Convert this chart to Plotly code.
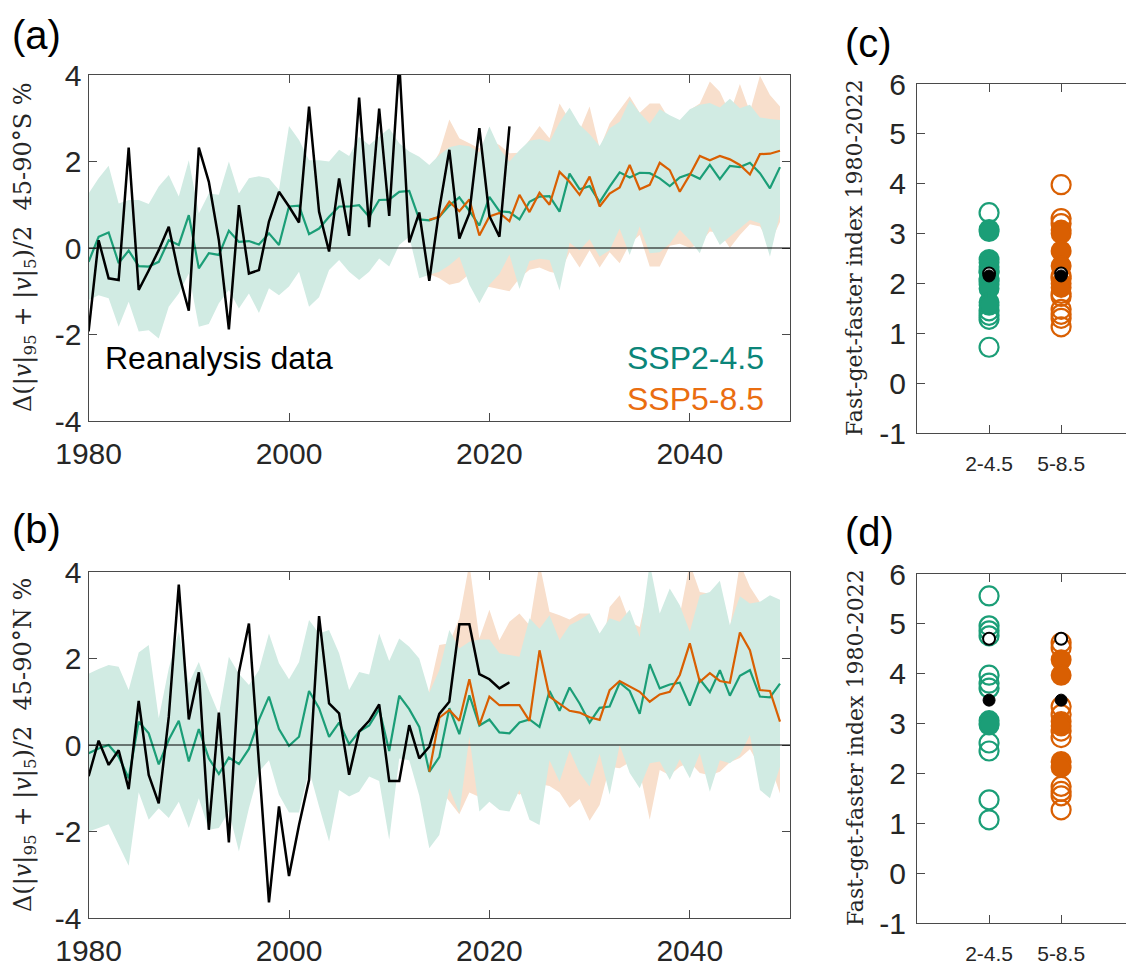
import plotly.graph_objects as go

# ---------------- data ----------------
years_hist = list(range(1980, 2023))      # reanalysis years
years_all = list(range(1980, 2050))       # model years (SSP2-4.5 incl. historical)
years_ssp = list(range(2014, 2050))       # SSP5-8.5 years

# Panel (a): 45-90°S
rean_a = [-1.93, 0.18, -0.70, -0.74, 2.32, -0.97, -0.52, -0.05, 0.49, -0.60,
          -1.45, 2.32, 1.53, 0.18, -1.88, 0.99, -0.59, -0.51, 0.61, 1.30,
          0.96, 0.59, 3.27, 0.84, -0.08, 1.61, 0.28, 3.48, 0.48, 3.22,
          0.74, 4.30, 0.13, 0.82, -0.76, 0.90, 2.27, 0.22, 0.80, 2.77,
          0.74, 0.26, 2.81]
ssp245_a = [-0.32, 0.26, 0.36, -0.35, -0.06, -0.42, -0.43, -0.32, 0.18, 0.07,
            0.76, -0.47, -0.12, -0.16, 0.40, 0.14, 0.16, 0.08, 0.34, 0.07,
            0.96, 0.98, 0.32, 0.45, 0.72, 0.96, 0.96, 0.99, 0.72, 1.11,
            1.12, 1.30, 1.32, 0.66, 0.64, 0.72, 0.98, 1.17, 0.86, 0.52,
            1.18, 0.85, 0.83, 0.66, 1.07, 1.19, 1.20, 0.84, 1.72, 1.36,
            1.43, 1.06, 1.42, 1.75, 1.63, 1.74, 1.73, 1.61, 1.43, 1.63,
            1.71, 1.60, 1.92, 1.59, 1.90, 1.87, 1.97, 1.73, 1.38, 1.87]
ssp585_a = [0.65, 0.72, 1.07, 0.85, 1.12, 0.29,
            0.73, 0.81, 0.62, 1.23, 0.83, 1.28, 1.00, 1.76, 1.53, 1.23,
            1.65, 0.96, 1.26, 1.40, 1.92, 1.36, 1.46, 1.97, 1.80, 1.30,
            1.69, 2.13, 2.03, 2.13, 2.05, 1.92, 1.70, 2.17, 2.18, 2.25]
ssp245_a_hi = [1.26, 1.61, 1.90, 1.03, 1.11, 1.11, 1.02, 1.42, 1.69, 1.19,
               2.03, 0.80, 1.26, 1.23, 2.00, 1.26, 1.61, 1.66, 1.61, 1.34,
               2.82, 2.50, 2.03, 2.03, 2.00, 2.27, 2.13, 2.57, 2.38, 2.57,
               2.77, 2.42, 2.23, 2.11, 1.92, 2.15, 2.33, 2.38, 2.35, 2.21,
               2.81, 2.30, 2.00, 2.26, 2.48, 2.52, 2.45, 2.90, 3.24, 2.85,
               2.63, 2.36, 2.77, 2.92, 3.42, 3.13, 2.87, 3.21, 3.07, 2.96,
               3.21, 3.31, 3.35, 3.25, 3.45, 3.23, 3.31, 3.02, 2.98, 2.96]
ssp245_a_lo = [-1.20, -1.09, -1.16, -1.82, -1.24, -1.93, -1.90, -2.09, -1.36, -1.05,
               -0.59, -1.82, -1.76, -1.28, -0.97, -1.40, -1.05, -1.50, -0.93, -1.09,
               -0.89, -0.55, -1.36, -1.14, -0.51, -0.28, -0.55, -0.74, -0.55, -0.24,
               -0.43, 0.07, 0.26, -0.70, -0.62, -0.55, -0.40, -0.20, -0.85, -1.28,
               -0.85, -0.60, -0.15, -0.95, -0.30, -0.25, -0.28, -0.98, 0.12, -0.05,
               0.20, -0.20, -0.05, 0.45, -0.16, 0.50, -0.12, -0.10, 0.10, 0.42,
               0.18, -0.12, 0.50, 0.07, 0.26, 0.45, 0.65, 0.57, -0.20, 0.80]
ssp585_a_hi = [1.80, 2.20, 2.97, 2.54, 2.42, 2.30,
               2.50, 2.38, 2.19, 2.20, 2.50, 2.82, 2.54, 3.34, 2.96, 2.71,
               3.27, 2.30, 2.88, 3.19, 3.51, 3.13, 3.34, 3.34, 2.96, 2.84,
               3.19, 3.34, 3.85, 3.61, 3.11, 3.79, 3.15, 3.98, 3.54, 3.27]
ssp585_a_lo = [-0.60, -0.70, -0.85, -0.80, -0.60, -0.90,
               -0.90, -0.95, -1.00, -0.70, -0.50, -0.45, -0.55, -0.60, -0.10, -0.45,
               -0.05, -0.45, -0.10, -0.35, 0.10, 0.30, -0.43, -0.43, 0.05, 0.10,
               0.00, 0.10, 0.38, 0.35, 0.00, 0.30, 0.55, 0.50, 0.10, 0.60]

# Panel (b): 45-90°N
rean_b = [-0.72, 0.10, -0.46, -0.12, -1.02, 1.02, -0.69, -1.35, 0.65, 3.71,
          0.59, 1.68, -1.96, 0.75, -2.25, 1.68, 2.81, -0.40, -3.64, -1.42,
          -3.03, -1.85, -0.81, 2.98, 0.96, 0.73, -0.69, 0.31, 0.56, 0.94,
          -0.83, -0.83, 0.46, -0.31, -0.04, 0.72, 1.00, 2.79, 2.79, 1.64,
          1.52, 1.31, 1.45]
ssp245_b = [-0.19, -0.08, 0.00, -0.27, -0.77, 0.54, 0.27, -0.45, 0.12, 0.56,
            -0.38, 0.37, -0.31, -0.67, -0.29, -0.44, -0.09, 0.58, 1.12, 0.37,
            -0.02, 0.19, 1.25, 0.85, 0.19, 0.52, 0.02, 0.31, 0.45, 0.83,
            -0.14, 1.14, 0.83, 0.42, -0.62, -0.28, 0.85, 0.25, 1.15, 0.45,
            0.59, 0.29, 0.27, 0.52, 0.59, 0.42, 1.25, 0.79, 1.33, 0.96,
            0.52, 0.86, 0.89, 1.44, 1.25, 0.72, 1.87, 1.31, 1.40, 1.44,
            0.91, 1.52, 1.22, 1.73, 1.14, 1.60, 1.73, 1.12, 1.10, 1.42]
ssp585_b = [-0.62, 0.63, 0.81, 0.56, 1.52, 0.46,
            1.12, 0.92, 0.92, 0.92, 0.56, 2.19, 1.12, 0.95, 0.79, 0.75,
            0.64, 0.58, 1.27, 1.48, 1.35, 1.23, 1.00, 1.17, 1.23, 1.62,
            2.35, 1.46, 1.66, 1.48, 1.44, 2.60, 2.19, 1.27, 1.25, 0.54]
ssp245_b_hi = [1.65, 1.76, 1.85, 1.81, 1.27, 2.14, 2.31, 0.62, 1.77, 2.62,
               1.42, 1.92, 1.27, 0.71, 2.04, 1.65, 1.39, 1.73, 2.58, 1.89,
               1.52, 1.92, 2.89, 2.58, 2.66, 2.12, 1.27, 1.69, 1.63, 2.58,
               1.94, 2.46, 2.27, 2.00, 1.21, 1.73, 2.66, 2.23, 2.39, 2.44,
               2.44, 2.12, 2.08, 2.04, 2.93, 2.69, 3.00, 2.42, 2.77, 2.89,
               3.04, 2.58, 2.93, 2.85, 3.13, 2.50, 4.20, 3.04, 3.62, 3.23,
               2.62, 3.46, 3.54, 3.80, 2.77, 3.44, 3.27, 3.31, 3.46, 3.36]
ssp245_b_lo = [-2.00, -1.92, -1.83, -2.31, -2.79, -1.09, -1.73, -1.46, -1.69, -1.31,
               -1.92, -1.23, -1.96, -1.92, -1.54, -2.46, -1.46, -0.62, -0.35, -1.15,
               -1.56, -1.56, -0.58, -1.42, -2.23, -1.04, -1.19, -1.08, -0.73, -0.83,
               -2.19, -0.31, -0.35, -1.17, -2.39, -2.08, -1.00, -1.58, 0.19, -1.54,
               -1.31, -1.50, -1.54, -1.04, -1.73, -1.85, -0.35, -0.85, -0.12, -0.65,
               -0.96, -0.20, -1.15, 0.00, -0.65, -1.00, -0.42, -0.38, -0.81, -0.33,
               -0.77, -0.19, -1.08, -0.35, -0.42, -0.23, 0.23, -1.04, -1.23, -0.50]
ssp585_b_hi = [1.27, 2.31, 2.35, 2.93, 4.20, 2.46,
               3.13, 2.42, 2.85, 3.04, 2.77, 4.20, 3.08, 3.00, 2.90, 3.04,
               3.04, 2.00, 3.19, 3.46, 2.85, 2.73, 3.80, 2.90, 3.50, 3.00,
               4.20, 3.54, 3.50, 3.40, 2.70, 4.20, 3.66, 3.30, 3.20, 3.30]
ssp585_b_lo = [-0.62, -1.00, -1.30, -1.60, -1.10, -1.20,
               -1.30, -1.20, -1.00, -1.15, -1.00, -0.90, -0.95, -1.10, -1.45, -1.25,
               -1.75, -1.39, -0.50, -0.54, -0.40, -0.60, -1.73, -0.58, -0.70, -0.50,
               -0.40, -0.65, -0.70, -0.62, -0.40, -0.30, -0.10, -0.50, -0.45, -1.12]

# Panels (c), (d): fast-get-faster index
scen_labels = ["2-4.5", "5-8.5"]
c_245_open = [3.42, 2.25, 2.05, 1.45, 1.36, 1.28, 0.72]
c_245_fill = [3.08, 3.04, 2.48, 2.42, 2.33, 2.22, 2.10, 1.98, 1.90, 1.62, 1.56]
c_585_open = [3.98, 3.30, 3.20, 2.15, 2.10, 1.80, 1.74, 1.48, 1.38, 1.30, 1.13]
c_585_fill = [3.07, 3.00, 2.65, 2.35, 2.00, 1.92]
c_rean_open = 2.20
c_rean_fill = 2.15
d_245_open = [5.56, 4.96, 4.86, 4.76, 3.97, 3.81, 3.71, 2.61, 2.45, 1.47, 1.07]
d_245_fill = [3.06, 3.00, 2.97]
d_585_open = [4.62, 4.52, 3.34, 3.18, 2.85, 2.72, 1.74, 1.64, 1.55, 1.27]
d_585_fill = [4.28, 3.97, 3.04, 2.95, 2.24, 2.12]
d_rean_open = 4.70
d_rean_fill = 3.47

# ---------------- style ----------------
W, H = 1126, 966
GREEN = "#1b9e77"
ORANGE = "#d95f02"
GREEN_FILL = "#d1ebe3"
ORANGE_FILL = "#f8dfcc"
AX = "#4a4a4a"
TXT = "#262626"
SANS = "Liberation Sans, Arial, sans-serif"
SERIF = "DejaVu Serif, serif"


def xd(p0, p1):
    return [p0 / W, p1 / W]


def yd(top, bottom):
    return [1 - bottom / H, 1 - top / H]


fig = go.Figure()


def band(x, hi, lo, color, xa, ya):
    fig.add_trace(go.Scatter(x=x + x[::-1], y=hi + lo[::-1], fill="toself",
                             fillcolor=color, line=dict(width=0), mode="lines",
                             hoverinfo="skip", showlegend=False, xaxis=xa, yaxis=ya))


def line(x, y, color, width, xa, ya):
    fig.add_trace(go.Scatter(x=x, y=y, mode="lines", line=dict(color=color, width=width),
                             showlegend=False, xaxis=xa, yaxis=ya))


for (xa, ya, rean, g, o, ghi, glo, ohi, olo) in [
        ("x", "y", rean_a, ssp245_a, ssp585_a, ssp245_a_hi, ssp245_a_lo, ssp585_a_hi, ssp585_a_lo),
        ("x2", "y2", rean_b, ssp245_b, ssp585_b, ssp245_b_hi, ssp245_b_lo, ssp585_b_hi, ssp585_b_lo)]:
    band(years_ssp, ohi, olo, ORANGE_FILL, xa, ya)
    band(years_all, ghi, glo, GREEN_FILL, xa, ya)
    line(years_all, g, GREEN, 2.2, xa, ya)
    line(years_ssp, o, ORANGE, 2.2, xa, ya)
    line(years_hist, rean, "black", 2.5, xa, ya)


def pts(xv, vals, color, open_, size, xa, ya, lw=2):
    fig.add_trace(go.Scatter(
        x=[xv] * len(vals), y=vals, mode="markers", showlegend=False,
        marker=dict(symbol="circle", size=size,
                    color="white" if open_ else color,
                    line=dict(color=color, width=lw)),
        xaxis=xa, yaxis=ya))


def open_pts(xv, vals, color, size, xa, ya):
    fig.add_trace(go.Scatter(
        x=[xv] * len(vals), y=vals, mode="markers", showlegend=False,
        marker=dict(symbol="circle-open", size=size, color=color, line=dict(width=2.2)),
        xaxis=xa, yaxis=ya))


for (xa, ya, g_open, g_fill, o_open, o_fill, r_open, r_fill) in [
        ("x3", "y3", c_245_open, c_245_fill, c_585_open, c_585_fill, c_rean_open, c_rean_fill),
        ("x4", "y4", d_245_open, d_245_fill, d_585_open, d_585_fill, d_rean_open, d_rean_fill)]:
    open_pts(1, g_open, GREEN, 19, xa, ya)
    pts(1, g_fill, GREEN, False, 19, xa, ya)
    open_pts(2, o_open, ORANGE, 19, xa, ya)
    pts(2, o_fill, ORANGE, False, 19, xa, ya)
    for xv in (1, 2):
        pts(xv, [r_open], "black", True, 12, xa, ya, lw=2)
        pts(xv, [r_fill], "black", False, 12, xa, ya, lw=1)

tick_font = dict(family=SANS, size=30, color=TXT)
common = dict(showgrid=False, zeroline=False, showline=True, linecolor=AX, linewidth=1.2,
              ticks="inside", ticklen=8, tickwidth=1.2, tickcolor=AX, mirror="ticks",
              tickfont=tick_font, automargin=False)

yr_ticks = [1980, 2000, 2020, 2040]
y_ticks = [-4, -2, 0, 2, 4]
f_ticks = [-1, 0, 1, 2, 3, 4, 5, 6]

fig.update_layout(
    width=W, height=H, margin=dict(l=0, r=0, t=0, b=0, autoexpand=False),
    paper_bgcolor="white", plot_bgcolor="white", showlegend=False,
    xaxis=dict(common, domain=xd(88.6, 790), range=[1980, 2050], anchor="y",
               tickvals=yr_ticks, ticktext=[str(t) for t in yr_ticks], ticklabelstandoff=6),
    yaxis=dict(common, domain=yd(75, 421), range=[-4, 4], anchor="x",
               tickvals=y_ticks, ticktext=[str(t) for t in y_ticks]),
    xaxis2=dict(common, domain=xd(88.6, 790), range=[1980, 2050], anchor="y2",
                tickvals=yr_ticks, ticktext=[str(t) for t in yr_ticks], ticklabelstandoff=6),
    yaxis2=dict(common, domain=yd(572, 918), range=[-4, 4], anchor="x2",
                tickvals=y_ticks, ticktext=[str(t) for t in y_ticks]),
    xaxis3=dict(common, domain=xd(917, 1126), range=[0, 2.9], anchor="y3",
                tickvals=[1, 2], ticktext=scen_labels, ticklabelstandoff=12,
                tickfont=dict(family=SANS, size=21, color=TXT)),
    yaxis3=dict(common, domain=yd(84, 433), range=[-1, 6], anchor="x3", mirror=False,
                tickvals=f_ticks, ticktext=[str(t) for t in f_ticks], ticklabelstandoff=4),
    xaxis4=dict(common, domain=xd(917, 1126), range=[0, 2.9], anchor="y4",
                tickvals=[1, 2], ticktext=scen_labels, ticklabelstandoff=12,
                tickfont=dict(family=SANS, size=21, color=TXT)),
    yaxis4=dict(common, domain=yd(574, 923), range=[-1, 6], anchor="x4", mirror=False,
                tickvals=f_ticks, ticktext=[str(t) for t in f_ticks], ticklabelstandoff=4),
)

# zero reference lines
for ya, xa in [("y", "x"), ("y2", "x2")]:
    fig.add_shape(type="line", xref=f"{xa} domain", yref=ya, x0=0, x1=1, y0=0, y1=0,
                  line=dict(color="black", width=1.2), layer="above")

ann = []
ylab_a = "Δ(|<i>v</i>|<sub>95</sub> + |<i>v</i>|<sub>5</sub>)/2  45-90°S %"
ylab_b = "Δ(|<i>v</i>|<sub>95</sub> + |<i>v</i>|<sub>5</sub>)/2  45-90°N %"
ylab_f = "Fast-get-faster index 1980-2022"
for text, xc, yc, size in [(ylab_a, 24, 247, 24), (ylab_b, 24, 745, 24),
                           (ylab_f, 855, 258, 22), (ylab_f, 855, 748, 22)]:
    ann.append(dict(text=text, x=xc / W, y=1 - yc / H, xref="paper", yref="paper",
                    textangle=-90, showarrow=False, xanchor="center", yanchor="middle",
                    font=dict(family=SERIF, size=size, color=TXT)))
for text, xl, yc in [("(a)", 10, 35), ("(b)", 10, 529), ("(c)", 843, 43), ("(d)", 843, 532)]:
    ann.append(dict(text=text, x=xl / W, y=1 - yc / H, xref="paper", yref="paper",
                    showarrow=False, xanchor="left", yanchor="middle",
                    font=dict(family=SANS, size=40, color="black")))
ann.append(dict(text="Reanalysis data", x=1981.4, y=-2.55, xref="x", yref="y",
                showarrow=False, xanchor="left", yanchor="middle",
                font=dict(family=SANS, size=32, color="black")))
ann.append(dict(text="SSP2-4.5", x=2047.6, y=-2.55, xref="x", yref="y",
                showarrow=False, xanchor="right", yanchor="middle",
                font=dict(family=SANS, size=32, color="#0b8579")))
ann.append(dict(text="SSP5-8.5", x=2047.6, y=-3.5, xref="x", yref="y",
                showarrow=False, xanchor="right", yanchor="middle",
                font=dict(family=SANS, size=32, color="#ea6d10")))
fig.update_layout(annotations=ann)

fig.write_html("out.html")
